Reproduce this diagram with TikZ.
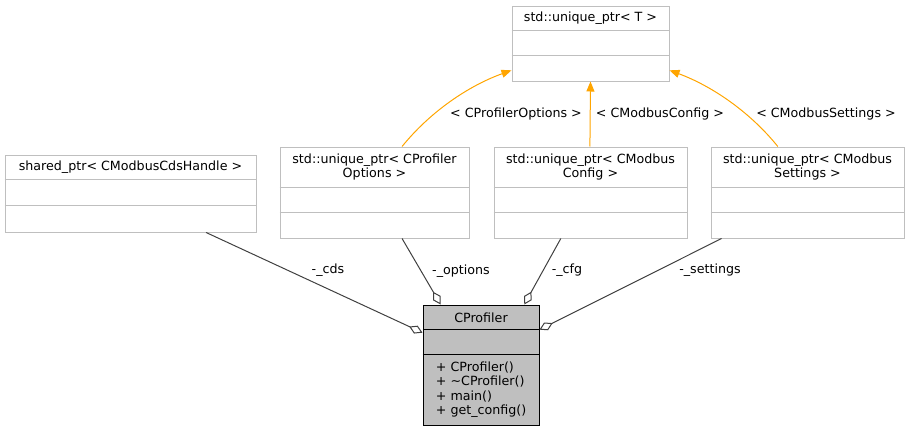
\documentclass[tikz,border=0pt]{standalone}
\usepackage{fontspec}
\setmainfont{DejaVu Sans}
\usetikzlibrary{calc, arrows.meta}
\definecolor{boxgray}{HTML}{BFBFBF}
\definecolor{edgegray}{HTML}{404040}
\definecolor{tmplorange}{HTML}{FFA500}

\begin{document}
\begin{tikzpicture}[x=0.75pt, y=-0.75pt, line width=0.75pt, font=\fontsize{9.5}{10.9}\selectfont,
  box/.style={draw=boxgray, fill=white, inner sep=0pt},
  agg/.style={draw=edgegray, -{Diamond[open, length=11pt, width=6.5pt]}},
  inst/.style={draw=tmplorange, -{Triangle[length=7.5pt, width=6pt, fill=tmplorange]}}]
  \useasboundingbox (0,0) rectangle (911,432);
  % class boxes, sections 25px apart
  \node[box, minimum width=117.75pt, minimum height=56.25pt] (uptr) at (590.5,43.5) {};
  \node[box, minimum width=141.75pt, minimum height=68.25pt] (opts) at (374.5,192.5) {};
  \node[box, minimum width=144.75pt, minimum height=68.25pt] (cfg) at (590.5,192.5) {};
  \node[box, minimum width=144.75pt, minimum height=68.25pt] (sett) at (807.5,192.5) {};
  \node[box, minimum width=188.25pt, minimum height=57.75pt] (cds) at (130.5,193.5) {};
  \node[draw=black, fill=boxgray, inner sep=0pt, minimum width=87pt, minimum height=90pt] (prof) at (481,365) {};
  \draw[boxgray] ($(uptr.north west)+(0,25)$) -- ($(uptr.north east)+(0,25)$);
  \draw[boxgray] ($(uptr.north west)+(0,50)$) -- ($(uptr.north east)+(0,50)$);
  \foreach \c in {opts, cfg, sett} {
    \draw[boxgray] ($(\c.north west)+(0,41)$) -- ($(\c.north east)+(0,41)$);
    \draw[boxgray] ($(\c.north west)+(0,66)$) -- ($(\c.north east)+(0,66)$);
  }
  \draw[boxgray] ($(cds.north west)+(0,25)$) -- ($(cds.north east)+(0,25)$);
  \draw[boxgray] ($(cds.north west)+(0,51)$) -- ($(cds.north east)+(0,51)$);
  \draw ($(prof.north west)+(0,25)$) -- ($(prof.north east)+(0,25)$);
  \draw ($(prof.north west)+(0,50)$) -- ($(prof.north east)+(0,50)$);
  % titles and members
  \node (uptrT) at (590.5,18.5) {std::unique\_ptr< T >};
  \node[align=center] (optsT) at (374.5,167) {std::unique\_ptr< CProfiler\\Options >};
  \node[align=center] (cfgT) at (590.5,167) {std::unique\_ptr< CModbus\\Config >};
  \node[align=center] (settT) at (807.5,167) {std::unique\_ptr< CModbus\\Settings >};
  \node (cdsT) at (130.5,167.5) {shared\_ptr< CModbusCdsHandle >};
  \node (profT) at (481,317.5) {CProfiler};
  \node[anchor=west, align=left] (profM) at (431,389.5) {+ CProfiler()\\+ \textasciitilde CProfiler()\\+ main()\\+ get\_config()};
  % template instances
  \draw[inst] ($(opts.north west)!0.645!(opts.north east)$) .. controls (430,112) and (468,86) .. ($(uptr.north west)!0.853!(uptr.south west)$);
  \draw[inst] ($(cfg.north west)!0.497!(cfg.north east)$) -- (uptr.south);
  \draw[inst] ($(sett.north west)!0.347!(sett.north east)$) .. controls (750,112) and (712,86) .. ($(uptr.north east)!0.853!(uptr.south east)$);
  \node (optsL) at (516,114) {< CProfilerOptions >};
  \node (cfgL) at (660,114) {< CModbusConfig >};
  \node (settL) at (826,114) {< CModbusSettings >};
  % members
  \draw[agg] ($(cds.south west)!0.8!(cds.south east)$) -- ($(prof.north west)!0.233!(prof.south west)$);
  \draw[agg] ($(opts.south west)!0.645!(opts.south east)$) -- ($(prof.north west)!0.155!(prof.north east)$);
  \draw[agg] ($(cfg.south west)!0.347!(cfg.south east)$) -- ($(prof.north west)!0.87!(prof.north east)$);
  \draw[agg] ($(sett.south west)!0.057!(sett.south east)$) -- ($(prof.north east)!0.208!(prof.south east)$);
  \node (cdsL) at (328,270) {-\_cds};
  \node (optsM) at (461,271) {-\_options};
  \node (cfgM) at (567,270) {-\_cfg};
  \node (settM) at (710,270) {-\_settings};
\end{tikzpicture}
\end{document}
